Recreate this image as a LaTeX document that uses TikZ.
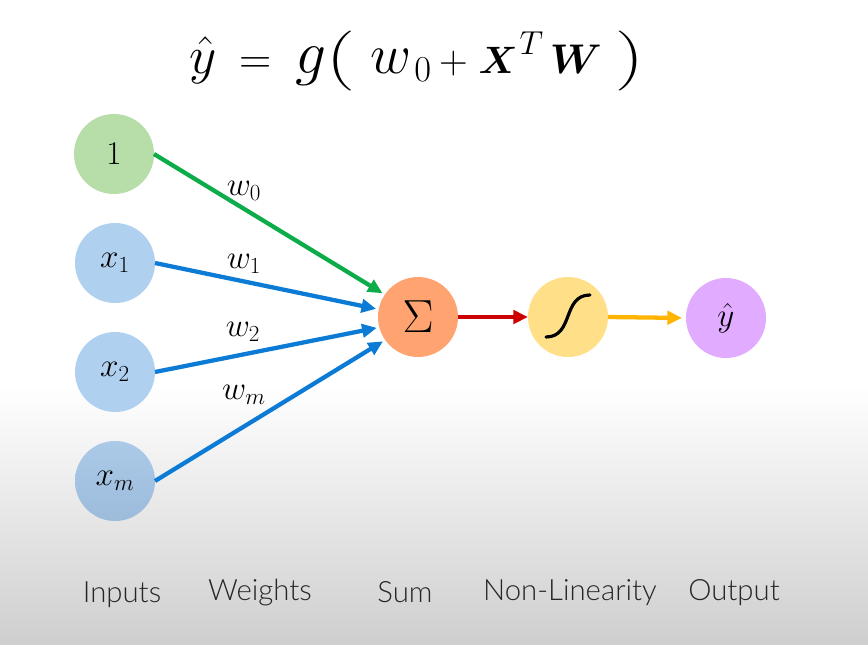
\documentclass[tikz,border=0pt]{standalone}
\usepackage{fontspec}
\usepackage{amsmath,bm}
\usetikzlibrary{arrows.meta}
\newfontfamily\lblfont{Lato Light}
\newcommand{\eqpart}[2]{\scalebox{#1}{$#2$}}
\newcommand{\eqparen}[1]{\raisebox{3pt}{\scalebox{1.4}[1.0]{$#1$}}}
\newcommand{\eqgap}[1]{\hspace*{#1pt}}
\definecolor{cgreen}{HTML}{B7DDA9}
\definecolor{cblue}{HTML}{AFD0EF}
\definecolor{cbluetop}{HTML}{AACAE8}
\definecolor{cbluebot}{HTML}{9DBBDB}
\definecolor{corange}{HTML}{FFA470}
\definecolor{cyellow}{HTML}{FFDF87}
\definecolor{cpurple}{HTML}{E1ACFF}
\definecolor{agreen}{HTML}{0BAC49}
\definecolor{ablue}{HTML}{0C7BD6}
\definecolor{ared}{HTML}{CC0000}
\definecolor{ayellow}{HTML}{FFB400}
\tikzset{
  x=0.75pt,y=-0.75pt,
  neuron/.style={circle,minimum size=60pt,inner sep=0pt,outer sep=0pt,font=\fontsize{23}{27}\selectfont},
  wire/.style={line width=3.2pt,-{Triangle[length=11pt,width=10pt]}},
  wlabel/.style={inner sep=0pt,font=\fontsize{23}{27}\selectfont},
  caption/.style={inner sep=0pt,anchor=base,text=black!85,font=\lblfont\fontsize{22}{26}\selectfont},
}
\begin{document}
\begin{tikzpicture}
\useasboundingbox (0,0) rectangle (868,644);
\fill[white] (0,0) rectangle (868,400);
\shade[top color=white,bottom color=black!19,shading angle=0] (0,385) rectangle (868,644);
\node[inner sep=0pt,anchor=base west,font=\fontsize{24.88}{28}\selectfont] (eq) at (189,73) {%
\eqpart{1.6}{\hat{y}}\eqgap{17}\eqpart{1.35}{=}\eqgap{18}\eqpart{1.85}{g}\eqgap{-1}\eqparen{\Bigl(}\eqgap{13.5}\eqpart{1.7}{w}\eqgap{2}\raisebox{-6pt}{\eqpart{1.1}{0}}\eqgap{6}\eqpart{1.2}{+}\eqgap{8}\eqpart{1.15}{\bm{X}}\eqgap{1.5}\raisebox{14pt}{\eqpart{1.0}{T}}\eqgap{5}\eqpart{1.25}{\bm{W}}\eqgap{12}\eqparen{\Bigr)}};
\node[neuron,fill=cgreen] (one) at (114,154) {$1$};
\node[neuron,fill=cblue] (x1) at (115,263) {\raisebox{-2pt}{$x_1$}};
\node[neuron,fill=cblue] (x2) at (115,372) {\raisebox{-2pt}{$x_2$}};
\node[neuron,top color=cbluetop,bottom color=cbluebot] (xm) at (115,481) {\raisebox{-2pt}{$x_m$}};
\node[neuron,fill=corange,font=\fontsize{24.88}{28}\selectfont] (sum) at (418,317) {\eqpart{1.4}{\Sigma}};
\node[neuron,fill=cyellow] (sig) at (568,317) {};
\node[neuron,fill=cpurple] (out) at (726,318) {$\hat{y}$};
\draw[line width=2.4pt,line cap=round] (546,337) .. controls (574,337) and (562,295) .. (590,295);
\draw[wire,agreen,shorten >=2pt] (one.east) -- (sum.146);
\draw[wire,ablue,shorten >=2pt] (x1.east) -- (sum.169);
\draw[wire,ablue,shorten >=2pt] (x2.east) -- (sum.195);
\draw[wire,ablue,shorten >=2pt] (xm.east) -- (sum.215);
\draw[wire,ared] (sum.east) -- (sig.west);
\draw[wire,ayellow,shorten >=3pt] (sig.east) -- (out.west);
\node[wlabel] (w0) at (244,191) {$w_0$};
\node[wlabel] (w1) at (244,264) {$w_1$};
\node[wlabel] (w2) at (243,332) {$w_2$};
\node[wlabel] (wm) at (244,395) {$w_m$};
\node[caption] (c1) at (122,602) {Inputs};
\node[caption] (c2) at (260,600) {Weights};
\node[caption] (c3) at (405,602) {Sum};
\node[caption] (c4) at (570,600) {Non-Linearity};
\node[caption] (c5) at (734,600) {Output};
\end{tikzpicture}
\end{document}
